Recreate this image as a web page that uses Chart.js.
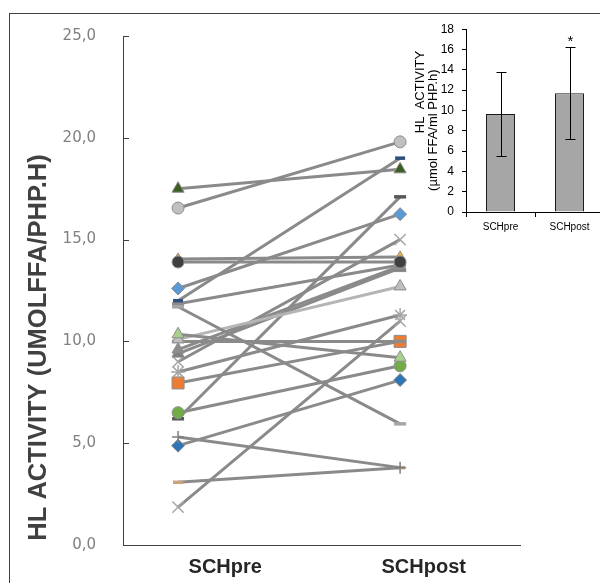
<!DOCTYPE html>
<html>
<head>
<meta charset="utf-8">
<script src="https://cdn.jsdelivr.net/npm/chart.js@4.4.0/dist/chart.umd.min.js"></script>
<style>
  html, body { margin: 0; padding: 0; background: #fff; overflow: hidden; }
  #wrap { position: relative; width: 600px; height: 583px; overflow: hidden; }
  #frame { position: absolute; left: 9px; top: 13px; width: 640px; height: 640px;
           border-left: 1px solid #404040; border-top: 1px solid #404040; }
  #main { position: absolute; left: 0; top: 0; width: 600px; height: 583px; }
  #inset { position: absolute; left: 412px; top: 14px; width: 198px; height: 230px; }
</style>
</head>
<body>
<div id="wrap">
  <div id="frame"></div>
  <canvas id="main" width="600" height="583"></canvas>
  <canvas id="inset" width="198" height="230"></canvas>
</div>
<script>
// paired measurements, one line per subject
const timepoints = ['SCHpre', 'SCHpost'];
const preValues  = [17.5, 16.55, 13.9, 14.05, 12.6, 12.0, 11.7, 11.85, 10.35, 10.1, 10.0,
                    9.6, 9.4, 9.0, 8.5, 7.96, 6.5, 6.2, 5.3, 4.88, 3.08, 1.86];
const postValues = [18.45, 19.8, 13.9, 14.15, 16.25, 19.0, 5.95, 13.75, 9.2, 12.7, 10.0,
                    13.7, 13.6, 15.0, 11.3, 10.0, 8.8, 17.1, 3.8, 8.1, 3.8, 11.0];
const yTicks = [0, 5, 10, 15, 20, 25];

// group summary for the small bar chart
const barMeans = [9.65, 11.7];
const barSD = [4.15, 4.5];
const barTicks = [0, 2, 4, 6, 8, 10, 12, 14, 16, 18];
const significant = [false, true];

// marker look per subject (same order as the value arrays)
const markers = [
  { style: 'triangle', fill: '#3b5e22', r: 7 },
  { style: 'circle',   fill: '#c0c0c0', r: 6 },
  { style: 'circle',   fill: '#404040', r: 6 },
  { style: 'triangle', fill: '#f0b73c', r: 6 },
  { style: 'rectRot',  fill: '#5b9bd5', r: 6.5 },
  { style: 'line',     fill: '#2f4f7f', r: 5 },
  { style: 'line',     fill: '#a6a6a6', r: 6 },
  { style: 'line',     fill: '#8c8c8c', r: 6 },
  { style: 'triangle', fill: '#a9d18e', r: 7 },
  { style: 'triangle', fill: '#bfbfbf', r: 7, line: '#b5b5b5' },
  { style: 'line',     fill: '#8c8c8c', r: 6 },
  { style: 'triangle', fill: '#8c8c8c', r: 7 },
  { style: 'triangle', fill: '#7f7f7f', r: 7 },
  { style: 'crossRot', fill: '#a6a6a6', r: 8 },
  { style: 'star',     fill: '#a6a6a6', r: 7 },
  { style: 'rect',     fill: '#ed7d31', r: 8.5 },
  { style: 'circle',   fill: '#70ad47', r: 6 },
  { style: 'line',     fill: '#595959', r: 6 },
  { style: 'cross',    fill: '#7f7f7f', r: 6 },
  { style: 'rectRot',  fill: '#2e75b6', r: 6.5 },
  { style: 'line',     fill: '#c9a27e', r: 5 },
  { style: 'crossRot', fill: '#a6a6a6', r: 8 }
];

const LINE_GRAY = '#8a8a8a';
const strokeOnly = ['line', 'cross', 'crossRot', 'star'];

const pairDatasets = preValues.map((v, i) => {
  const m = markers[i];
  const stroked = strokeOnly.includes(m.style);
  return {
    data: [{ x: 1, y: v }, { x: 2, y: postValues[i] }],
    xAxisID: 'xData',
    borderColor: m.line || LINE_GRAY,
    borderWidth: 3,
    pointStyle: m.style,
    pointRadius: m.r,
    pointBackgroundColor: m.fill,
    pointBorderColor: stroked ? m.fill : '#8c8c8c',
    pointBorderWidth: m.style === 'line' ? 3.5 : (stroked ? 1.5 : 1)
  };
});

// small tick marks drawn on the inside of the value axis
const innerTicks = {
  id: 'innerTicks',
  afterDraw(chart) {
    const y = chart.scales.y;
    const ctx = chart.ctx;
    const x0 = chart.chartArea.left;
    ctx.save();
    ctx.strokeStyle = '#404040';
    ctx.lineWidth = 1;
    y.ticks.forEach(t => {
      const py = Math.round(y.getPixelForValue(t.value)) + 0.5;
      ctx.beginPath();
      ctx.moveTo(x0, py);
      ctx.lineTo(x0 + 6, py);
      ctx.stroke();
    });
    ctx.restore();
  }
};

const sideTitle = {
  id: 'sideTitle',
  afterDraw(chart) {
    const ctx = chart.ctx;
    const a = chart.chartArea;
    ctx.save();
    ctx.translate(39, (a.top + a.bottom) / 2 + 57);
    ctx.rotate(-Math.PI / 2);
    ctx.font = 'bold 25.5px "Liberation Sans", Arial, sans-serif';
    ctx.fillStyle = '#404040';
    ctx.textAlign = 'center';
    ctx.textBaseline = 'middle';
    ctx.fillText('HL ACTIVITY (UMOLFFA/PHP.H)', 0, 0);
    ctx.restore();
  }
};

new Chart(document.getElementById('main'), {
  type: 'line',
  data: { labels: timepoints, datasets: pairDatasets },
  options: {
    responsive: false,
    animation: false,
    layout: { padding: { left: 0, top: 33, right: 80, bottom: 0 } },
    plugins: { legend: { display: false }, tooltip: { enabled: false } },
    scales: {
      x: {
        type: 'category',
        labels: timepoints,
        offset: true,
        grid: { display: false, drawTicks: false },
        border: { display: true, color: '#404040', width: 1 },
        ticks: {
          color: '#262626',
          padding: 10,
          labelOffset: 3,
          font: { family: '"Liberation Sans", Arial, sans-serif', size: 20, weight: 'bold' }
        },
        afterFit(s) { s.height = 38; }
      },
      xData: { type: 'linear', display: false, min: 0.752, max: 2.54 },
      y: {
        min: 0,
        max: 25,
        afterBuildTicks(s) { s.ticks = yTicks.map(v => ({ value: v })); },
        grid: { display: false, drawTicks: false },
        border: { display: true, color: '#404040', width: 1 },
        ticks: {
          color: '#808080',
          padding: 27,
          font: { family: '"DejaVu Sans", Verdana, sans-serif', size: 15 },
          callback: v => v.toFixed(1).replace('.', ',')
        },
        afterFit(s) { s.width = 123; }
      }
    }
  },
  plugins: [innerTicks, sideTitle]
});

// error bars and significance mark on the summary bars
const errorBars = {
  id: 'errorBars',
  afterDatasetsDraw(chart) {
    const ctx = chart.ctx;
    const y = chart.scales.y;
    const meta = chart.getDatasetMeta(0);
    ctx.save();
    ctx.strokeStyle = '#000';
    ctx.lineWidth = 1;
    meta.data.forEach((bar, i) => {
      const px = Math.round(bar.x) + 0.5;
      const top = Math.round(y.getPixelForValue(barMeans[i] + barSD[i])) + 0.5;
      const bot = Math.round(y.getPixelForValue(barMeans[i] - barSD[i])) + 0.5;
      ctx.beginPath();
      ctx.moveTo(px, top); ctx.lineTo(px, bot);
      ctx.moveTo(px - 5, top); ctx.lineTo(px + 5, top);
      ctx.moveTo(px - 5, bot); ctx.lineTo(px + 5, bot);
      ctx.stroke();
      if (significant[i]) {
        ctx.fillStyle = '#000';
        ctx.font = '15px "Liberation Sans", Arial, sans-serif';
        ctx.textAlign = 'center';
        ctx.textBaseline = 'middle';
        ctx.fillText('*', px, top - 6);
      }
    });
    ctx.restore();
  }
};

const insetTitle = {
  id: 'insetTitle',
  afterDraw(chart) {
    const ctx = chart.ctx;
    const a = chart.chartArea;
    ctx.save();
    ctx.font = '13px "Liberation Sans", Arial, sans-serif';
    ctx.fillStyle = '#000';
    ctx.textBaseline = 'middle';
    // first line starts low on the axis, second is centred on it
    ctx.save();
    ctx.translate(8, a.top + 104);
    ctx.rotate(-Math.PI / 2);
    ctx.textAlign = 'left';
    ctx.fillText('HL  ACTIVITY', 0, 0);
    ctx.restore();
    ctx.save();
    ctx.translate(21, a.top + 101);
    ctx.rotate(-Math.PI / 2);
    ctx.textAlign = 'center';
    ctx.fillText('(\u00b5mol FFA/ml PHP.h)', 0, 0);
    ctx.restore();
    ctx.restore();
  }
};

new Chart(document.getElementById('inset'), {
  type: 'bar',
  data: {
    labels: timepoints,
    datasets: [{
      data: barMeans,
      backgroundColor: '#a6a6a6',
      borderColor: '#1a1a1a',
      borderWidth: 1,
      barPercentage: 0.42,
      categoryPercentage: 1.0
    }]
  },
  options: {
    responsive: false,
    animation: false,
    layout: { padding: { left: 0, top: 7, right: 6, bottom: 0 } },
    plugins: { legend: { display: false }, tooltip: { enabled: false } },
    scales: {
      x: {
        grid: { display: true, drawOnChartArea: false, tickLength: 5, color: '#000' },
        border: { color: '#000', width: 1 },
        ticks: {
          color: '#000',
          padding: 4,
          font: { family: '"Liberation Sans", Arial, sans-serif', size: 10 }
        },
        afterFit(s) { s.height = 32; }
      },
      y: {
        min: 0,
        max: 18,
        afterBuildTicks(s) { s.ticks = barTicks.map(v => ({ value: v })); },
        grid: { display: true, drawOnChartArea: false, tickLength: 4, color: '#000' },
        border: { color: '#000', width: 1 },
        ticks: {
          color: '#000',
          padding: 8,
          font: { family: '"Liberation Sans", Arial, sans-serif', size: 12 }
        },
        afterFit(s) { s.width = 54; }
      }
    }
  },
  plugins: [errorBars, insetTitle]
});
</script>
</body>
</html>
